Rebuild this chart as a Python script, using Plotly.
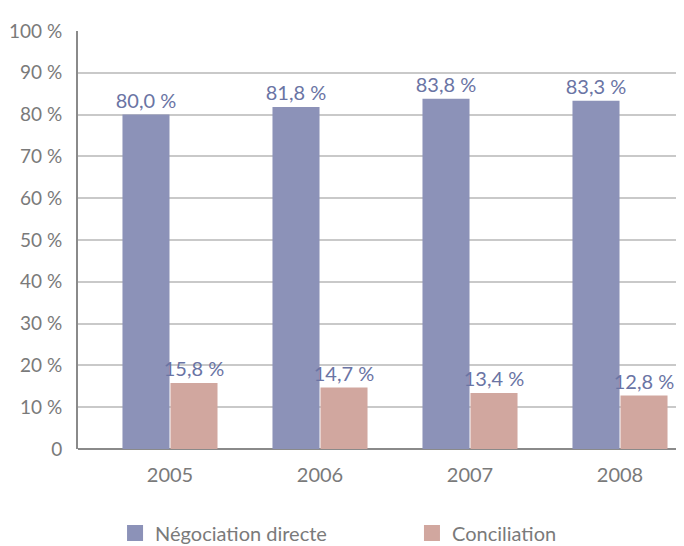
import plotly.graph_objects as go

years = ["2005", "2006", "2007", "2008"]
negociation = [80.0, 81.8, 83.8, 83.3]
conciliation = [15.8, 14.7, 13.4, 12.8]
neg_labels = ["80,0 %", "81,8 %", "83,8 %", "83,3 %"]
con_labels = ["15,8 %", "14,7 %", "13,4 %", "12,8 %"]
y_ticks = [0, 10, 20, 30, 40, 50, 60, 70, 80, 90, 100]
y_ticktext = ["0", "10 %", "20 %", "30 %", "40 %", "50 %", "60 %", "70 %", "80 %", "90 %", "100 %"]

FONT = "Lato"
GREY = "#7a7a7a"
LABEL = "#6a74a4"
BLUE = "#8c92b8"
RED = "#d1a79f"

fig = go.Figure()
fig.add_trace(go.Bar(
    x=years, y=negociation, name="Négociation directe", showlegend=False,
    marker=dict(color=BLUE, line=dict(width=0)),
    text=neg_labels, textposition="outside", cliponaxis=False,
    constraintext="none",
    textfont=dict(family=FONT, size=20, color=LABEL),
))
fig.add_trace(go.Bar(
    x=years, y=conciliation, name="Conciliation", showlegend=False,
    marker=dict(color=RED, line=dict(width=0)),
    text=con_labels, textposition="outside", cliponaxis=False,
    constraintext="none",
    textfont=dict(family=FONT, size=20, color=LABEL),
))
# legend entries
fig.add_trace(go.Scatter(
    x=[None], y=[None], mode="markers", name="Négociation directe",
    marker=dict(symbol="square", size=16, color=BLUE), legend="legend",
))
fig.add_trace(go.Scatter(
    x=[None], y=[None], mode="markers", name="Conciliation",
    marker=dict(symbol="square", size=16, color=RED), legend="legend2",
))

leg_common = dict(
    orientation="h", xref="container", yref="container",
    xanchor="left", yanchor="middle",
    font=dict(family=FONT, size=20, color=GREY),
    bgcolor="rgba(0,0,0,0)", itemsizing="trace",
)

fig.update_layout(
    width=684, height=546,
    margin=dict(l=70, r=8, t=23, b=105, autoexpand=False),
    paper_bgcolor="white", plot_bgcolor="white",
    barmode="group", bargap=0.36, bargroupgap=0.02,
    font=dict(family=FONT, size=19, color=GREY),
    showlegend=True,
    legend=dict(x=0.1565, y=0.0385, **leg_common),
    legend2=dict(x=0.5906, y=0.0385, **leg_common),
    xaxis=dict(
        type="category", range=[-0.6133, 3.4267], automargin=False,
        showgrid=False, showline=False, zeroline=False,
        ticks="", ticklabelstandoff=12,
        tickfont=dict(family=FONT, size=20, color=GREY),
    ),
    yaxis=dict(
        range=[0, 100], tickvals=y_ticks, ticktext=y_ticktext, automargin=False,
        showgrid=True, gridcolor="#c9c9c9", gridwidth=1.5,
        showline=True, linecolor="#8a8a8a", linewidth=2,
        zeroline=True, zerolinecolor="#8a8a8a", zerolinewidth=2,
        ticks="", ticklabelstandoff=10,
        tickfont=dict(family=FONT, size=19, color=GREY),
    ),
)

fig.write_html("out.html")
